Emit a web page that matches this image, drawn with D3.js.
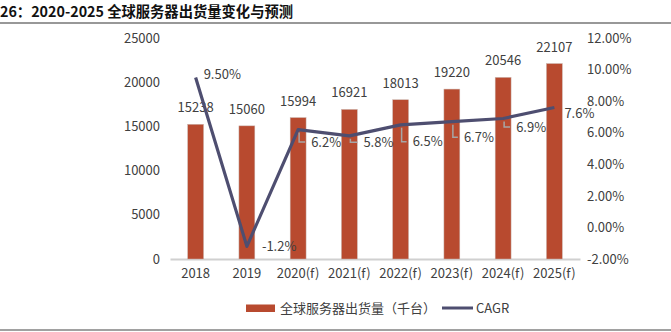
<!DOCTYPE html>
<html><head><meta charset="utf-8">
<script src="https://cdn.jsdelivr.net/npm/d3@7"></script>
<style>
html,body{margin:0;padding:0;background:#fff;}
svg{display:block;font-family:"Noto Sans CJK SC","Noto Sans",sans-serif;}
</style></head>
<body>
<svg id="c" width="671" height="332"></svg>
<script>
const categories = ["2018","2019","2020(f)","2021(f)","2022(f)","2023(f)","2024(f)","2025(f)"];
const shipments = [15238,15060,15994,16921,18013,19220,20546,22107];
const cagr = [9.5,-1.2,6.2,5.8,6.5,6.7,6.9,7.6];
const cagrLabels = ["9.50%","-1.2%","6.2%","5.8%","6.5%","6.7%","6.9%","7.6%"];
const leftTicks = [0,5000,10000,15000,20000,25000];
const rightTicks = [-2,0,2,4,6,8,10,12];
const title = "26：2020-2025 全球服务器出货量变化与预测";
const legendNames = ["全球服务器出货量（千台）","CAGR"];

const barColor = "#B84A2F", lineColor = "#4E4E70", textColor = "#404040";
const svg = d3.select("#c");

// title and rules
svg.append("text").attr("x",0).attr("y",17).attr("font-size",14.3).attr("font-weight","bold")
  .attr("fill","#111").text(title);
svg.append("line").attr("x1",0).attr("x2",671).attr("y1",23).attr("y2",23).attr("stroke","#333").attr("stroke-width",1.2);
svg.append("line").attr("x1",0).attr("x2",671).attr("y1",330).attr("y2",330).attr("stroke","#444").attr("stroke-width",1.2);

const x = d3.scaleBand().domain(categories).range([170,580]).paddingInner(0.69).paddingOuter(0.345);
const yL = d3.scaleLinear().domain([0,25000]).range([259,38]);
const yR = d3.scaleLinear().domain([-2,12]).range([259,38]);
const cx = c => x(c) + x.bandwidth()/2;

// left axis
const gl = svg.append("g").attr("transform","translate(170,0)")
  .call(d3.axisLeft(yL).tickValues(leftTicks).tickSize(0).tickPadding(10).tickFormat(d3.format("d")));
gl.select(".domain").remove();
// right axis
const gr = svg.append("g").attr("transform","translate(580,0)")
  .call(d3.axisRight(yR).tickValues(rightTicks).tickSize(0).tickPadding(7).tickFormat(d=>d.toFixed(2)+"%"));
gr.select(".domain").remove();
// bottom axis
const gb = svg.append("g").attr("transform","translate(0,259)")
  .call(d3.axisBottom(x).tickSize(0).tickPadding(10));
gb.select(".domain").attr("stroke","#D0D0D0").attr("stroke-width",2);
svg.selectAll(".tick text").attr("font-size",13).attr("fill",textColor)
  .attr("font-family","'Noto Sans CJK SC','Noto Sans',sans-serif");

// bars
svg.append("g").selectAll("rect").data(shipments).join("rect")
  .attr("x",(d,i)=>x(categories[i])).attr("width",x.bandwidth())
  .attr("y",d=>yL(d)).attr("height",d=>yL(0)-yL(d))
  .attr("fill",barColor).attr("stroke","#C9B5AE").attr("stroke-width",0.5);
svg.append("g").selectAll("text").data(shipments).join("text")
  .attr("x",(d,i)=>cx(categories[i])).attr("y",d=>yL(d)-12)
  .attr("text-anchor","middle").attr("font-size",13).attr("fill",textColor).text(d=>d);

// line
const line = d3.line().x((d,i)=>cx(categories[i])).y(d=>yR(d));
svg.append("path").datum(cagr).attr("d",line).attr("fill","none")
  .attr("stroke",lineColor).attr("stroke-width",3.2).attr("stroke-linejoin","round");

// line labels: [dx, dy of text center relative to point, leader?]
const lab = [[8,-3,false],[15,0,false],[13,12.5,true],[14,6.5,true],[12,17,true],[12,15.5,true],[13,8.5,true],[10,5.5,false]];
const gLab = svg.append("g");
cagr.forEach((v,i)=>{
  const px = cx(categories[i]), py = yR(v);
  const [dx,dy,lead] = lab[i];
  if (lead) {
    gLab.append("path").attr("d",`M${px+1},${py+3}V${py+dy}H${px+dx-6}`)
      .attr("fill","none").attr("stroke","#A6A6A6").attr("stroke-width",1.5);
  }
  gLab.append("text").attr("x",px+dx).attr("y",py+dy).attr("dy","0.35em")
    .attr("font-size",13).attr("fill",textColor).text(cagrLabels[i]);
});

// legend
svg.append("rect").attr("x",246).attr("y",304.5).attr("width",29).attr("height",7.5).attr("fill",barColor);
svg.append("text").attr("x",280).attr("y",308).attr("dy","0.35em").attr("font-size",13).attr("fill",textColor).text(legendNames[0]);
svg.append("line").attr("x1",442).attr("x2",473).attr("y1",308).attr("y2",308).attr("stroke",lineColor).attr("stroke-width",3);
svg.append("text").attr("x",476).attr("y",308).attr("dy","0.35em").attr("font-size",13).attr("fill",textColor).text(legendNames[1]);
</script>
</body></html>
